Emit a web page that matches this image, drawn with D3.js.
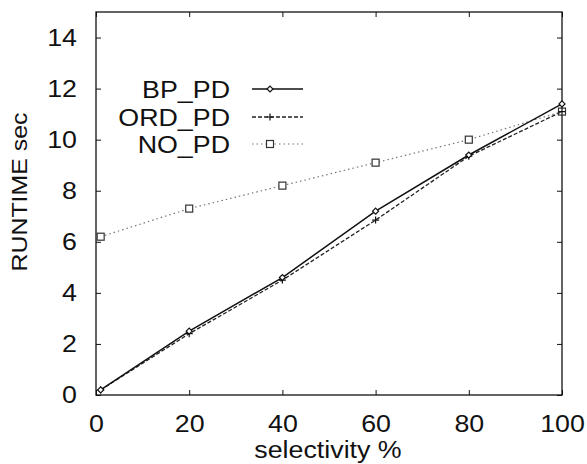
<!DOCTYPE html>
<html lang="en">
<head>
  <meta charset="utf-8">
  <title>Runtime vs selectivity</title>
  <script type="text/javascript" src="https://d3js.org/d3.v7.min.js"></script>
  <style type="text/css">
    body { margin: 0; background: #fff; }
    text { font-family: "Liberation Sans", Arial, sans-serif; fill: #111; }
    .frame { fill: none; stroke: #111; stroke-width: 1.3; }
    .tick line { stroke: #111; stroke-width: 1; }
  </style>
</head>
<body>
  <script type="text/javascript">
  // data
  var selectivity = [1, 20, 40, 60, 80, 100];
  var bpPd  = [0.2, 2.5, 4.6, 7.2, 9.4, 11.4];
  var ordPd = [0.2, 2.4, 4.5, 6.85, 9.35, 11.1];
  var noPd  = [6.2, 7.3, 8.2, 9.1, 10.0, 11.1];
  var seriesNames = ["BP_PD", "ORD_PD", "NO_PD"];
  var xTicks = [0, 20, 40, 60, 80, 100];
  var yTicks = [0, 2, 4, 6, 8, 10, 12, 14];

  var w = 587;
  var h = 464;
  var padL = 96, padR = 562, padT = 12, padB = 395;
  var fontPx = "23.5px";
  var stretch = 1.14; // the original lettering is a bit wide

  var xScale = d3.scaleLinear().domain([0, 100]).range([padL, padR]);
  var yScale = d3.scaleLinear().domain([0, 15]).range([padB, padT]);

  var svg = d3.select("body").append("svg")
    .attr("width", w)
    .attr("height", h);

  // widen text glyphs horizontally
  function widen(sel) {
    sel.each(function() {
      var len = this.getComputedTextLength();
      d3.select(this).attr("textLength", len * stretch).attr("lengthAdjust", "spacingAndGlyphs");
    });
  }

  // axes, ticks pointing inward
  var xAxis = d3.axisBottom(xScale).tickValues(xTicks).tickSizeInner(-5).tickSizeOuter(0).tickPadding(20);
  var yAxis = d3.axisLeft(yScale).tickValues(yTicks).tickSizeInner(-5).tickSizeOuter(0).tickPadding(19);

  svg.append("g").attr("transform", "translate(0," + padB + ")").call(xAxis);
  svg.append("g").attr("transform", "translate(" + padL + ",0)").call(yAxis);
  // mirrored ticks on top/right
  svg.append("g").attr("transform", "translate(0," + padT + ")")
    .call(d3.axisTop(xScale).tickValues(xTicks).tickSizeInner(-5).tickSizeOuter(0).tickFormat(""));
  svg.append("g").attr("transform", "translate(" + padR + ",0)")
    .call(d3.axisRight(yScale).tickValues(yTicks).tickSizeInner(-5).tickSizeOuter(0).tickFormat(""));

  svg.selectAll(".domain").remove();
  svg.selectAll(".tick text").style("font-size", fontPx)
    .style("font-family", "'Liberation Sans', Arial, sans-serif").attr("fill", "#111")
    .call(widen);

  svg.append("rect").attr("class", "frame")
    .attr("x", padL).attr("y", padT)
    .attr("width", padR - padL).attr("height", padB - padT);

  // axis titles
  svg.append("text")
    .attr("transform", "translate(27,192) rotate(-90)")
    .attr("text-anchor", "middle")
    .style("font-size", "22px")
    .attr("textLength", 159)
    .attr("lengthAdjust", "spacingAndGlyphs")
    .text("RUNTIME sec");

  svg.append("text")
    .attr("x", 328)
    .attr("y", 458)
    .attr("text-anchor", "middle")
    .style("font-size", fontPx)
    .text("selectivity %")
    .call(widen);

  var styles = [
    { stroke: "#111", dash: null, width: 1.5 },
    { stroke: "#222", dash: "4,2", width: 1.3 },
    { stroke: "#777", dash: "1.5,3", width: 1.2 }
  ];
  var allSeries = [bpPd, ordPd, noPd];

  var line = d3.line()
    .x(function(d, i) { return xScale(selectivity[i]); })
    .y(function(d) { return yScale(d); });

  function drawMarker(g, k, x, y) {
    if (k == 0) {
      g.append("path")
        .attr("d", "M" + (x - 3) + "," + y + "L" + x + "," + (y - 3) + "L" + (x + 3) + "," + y + "L" + x + "," + (y + 3) + "Z")
        .attr("fill", "#fff").attr("stroke", "#111").attr("stroke-width", 1.2);
    } else if (k == 1) {
      g.append("path")
        .attr("d", "M" + (x - 3.5) + "," + y + "H" + (x + 3.5) + "M" + x + "," + (y - 3.5) + "V" + (y + 3.5))
        .attr("stroke", "#111").attr("stroke-width", 1.2);
    } else {
      g.append("rect")
        .attr("x", x - 3.5).attr("y", y - 3.5).attr("width", 7).attr("height", 7)
        .attr("fill", "#fff").attr("stroke", "#333").attr("stroke-width", 1.2);
    }
  }

  // draw NO_PD first so solid lines sit on top
  [2, 1, 0].forEach(function(k) {
    var g = svg.append("g");
    g.append("path")
      .datum(allSeries[k])
      .attr("fill", "none")
      .attr("stroke", styles[k].stroke)
      .attr("stroke-width", styles[k].width)
      .attr("stroke-dasharray", styles[k].dash)
      .attr("d", line);
    allSeries[k].forEach(function(v, i) {
      drawMarker(g, k, xScale(selectivity[i]), yScale(v));
    });
  });

  // legend
  var legendY = [89, 117, 144];
  seriesNames.forEach(function(name, k) {
    var g = svg.append("g");
    g.append("text")
      .attr("x", 230).attr("y", legendY[k] + 9)
      .attr("text-anchor", "end")
      .style("font-size", fontPx)
      .text(name)
      .call(widen);
    g.append("line")
      .attr("x1", 252).attr("x2", 303)
      .attr("y1", legendY[k]).attr("y2", legendY[k])
      .attr("stroke", styles[k].stroke)
      .attr("stroke-width", styles[k].width)
      .attr("stroke-dasharray", styles[k].dash);
    drawMarker(g, k, 270, legendY[k]);
  });
  </script>
</body>
</html>
